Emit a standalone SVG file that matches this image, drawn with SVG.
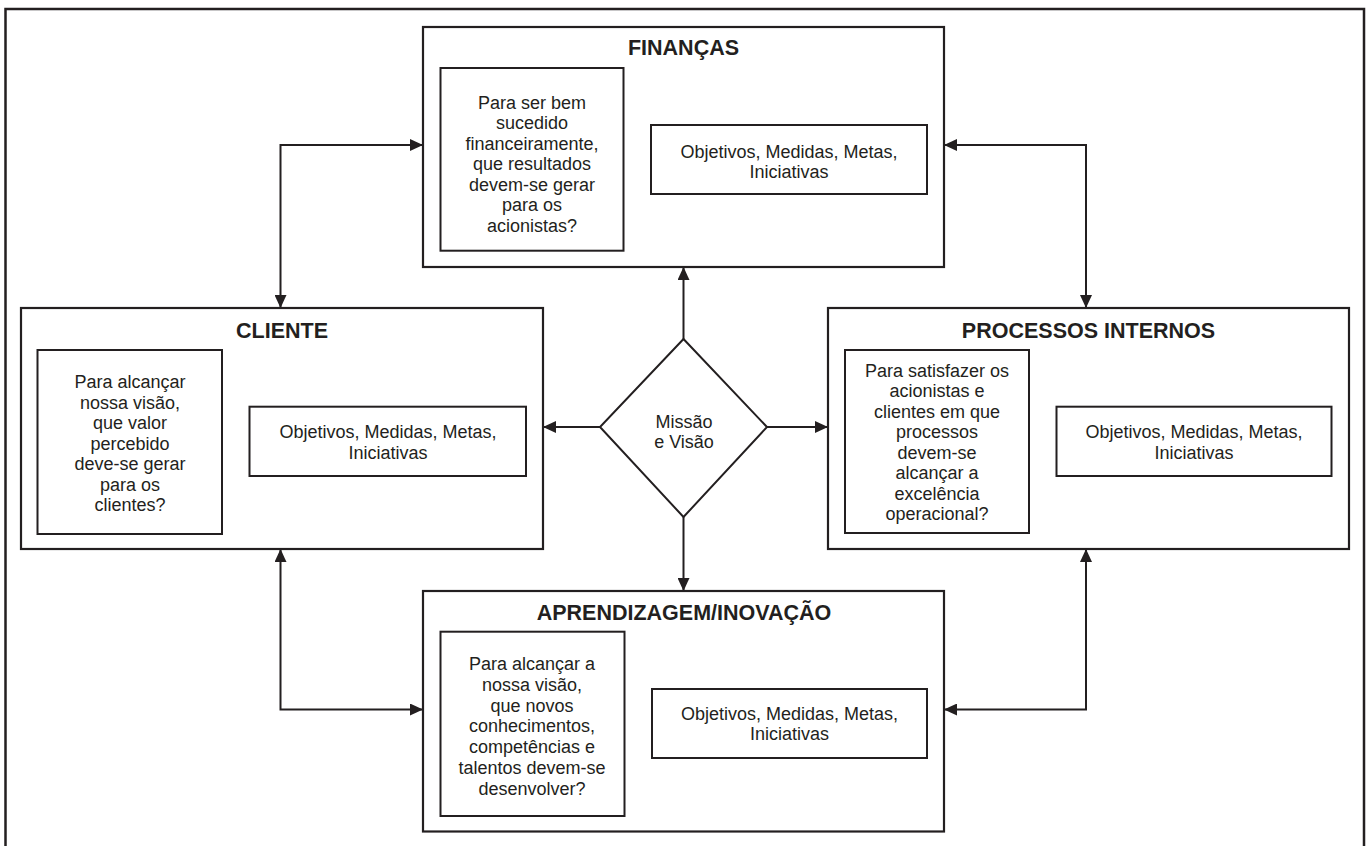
<svg xmlns="http://www.w3.org/2000/svg" width="1371" height="846" viewBox="0 0 1371 846">
<defs>
<marker id="ah" viewBox="0 0 13 12" refX="13" refY="6" markerWidth="13" markerHeight="12" markerUnits="userSpaceOnUse" orient="auto-start-reverse">
<path d="M0,0 L13,6 L0,12 z" fill="#231f20"/>
</marker>
<style>
.box{fill:#fff;stroke:#231f20;stroke-width:2.2}
.ibox{fill:#fff;stroke:#231f20;stroke-width:2}
.title{font-family:"Liberation Sans",Arial,sans-serif;font-weight:bold;font-size:21.5px;fill:#231f20;text-anchor:middle}
.t{font-family:"Liberation Sans",Arial,sans-serif;font-size:18px;fill:#231f20;text-anchor:middle}
.c{fill:none;stroke:#231f20;stroke-width:2}
</style>
</defs>
<rect x="0" y="0" width="1371" height="846" fill="#fff"/>
<rect x="5.5" y="9" width="1358.5" height="850" fill="none" stroke="#231f20" stroke-width="2.5"/>

<g id="connectors">
<path class="c" d="M280.5 308 V145 H423" marker-start="url(#ah)" marker-end="url(#ah)"/>
<path class="c" d="M944 145 H1086 V308" marker-start="url(#ah)" marker-end="url(#ah)"/>
<path class="c" d="M280.5 549 V709.5 H423" marker-start="url(#ah)" marker-end="url(#ah)"/>
<path class="c" d="M1086 549 V709.5 H944" marker-start="url(#ah)" marker-end="url(#ah)"/>
<path class="c" d="M683.5 339 V267" marker-end="url(#ah)"/>
<path class="c" d="M683.5 517 V591" marker-end="url(#ah)"/>
<path class="c" d="M600 427 H543" marker-end="url(#ah)"/>
<path class="c" d="M767 427 H828" marker-end="url(#ah)"/>
</g>

<g id="financas">
<rect class="box" x="423" y="27" width="521" height="240"/>
<text class="title" x="683.5" y="54.7">FINANÇAS</text>
<rect class="ibox" x="440.5" y="68" width="183" height="182.7"/>
<text class="t" x="532" y="108.5">Para ser bem</text>
<text class="t" x="532" y="129">sucedido</text>
<text class="t" x="532" y="149.5">financeiramente,</text>
<text class="t" x="532" y="170">que resultados</text>
<text class="t" x="532" y="190.5">devem-se gerar</text>
<text class="t" x="532" y="211">para os</text>
<text class="t" x="532" y="231.5">acionistas?</text>
<rect class="ibox" x="651" y="125" width="276" height="69"/>
<text class="t" x="789" y="157.5">Objetivos, Medidas, Metas,</text>
<text class="t" x="789" y="178">Iniciativas</text>
</g>

<g id="cliente">
<rect class="box" x="21" y="308" width="522" height="241"/>
<text class="title" x="282" y="338">CLIENTE</text>
<rect class="ibox" x="37.5" y="350" width="184.5" height="184"/>
<text class="t" x="130" y="388">Para alcançar</text>
<text class="t" x="130" y="408.5">nossa visão,</text>
<text class="t" x="130" y="429">que valor</text>
<text class="t" x="130" y="449.5">percebido</text>
<text class="t" x="130" y="470">deve-se gerar</text>
<text class="t" x="130" y="490.5">para os</text>
<text class="t" x="130" y="511">clientes?</text>
<rect class="ibox" x="249.5" y="406.7" width="276.5" height="69.3"/>
<text class="t" x="388" y="438">Objetivos, Medidas, Metas,</text>
<text class="t" x="388" y="458.5">Iniciativas</text>
</g>

<g id="processos">
<rect class="box" x="828" y="308" width="521" height="241"/>
<text class="title" x="1088.5" y="338">PROCESSOS INTERNOS</text>
<rect class="ibox" x="845" y="350" width="184" height="183"/>
<text class="t" x="937" y="376.5">Para satisfazer os</text>
<text class="t" x="937" y="397">acionistas e</text>
<text class="t" x="937" y="417.5">clientes em que</text>
<text class="t" x="937" y="438">processos</text>
<text class="t" x="937" y="458.5">devem-se</text>
<text class="t" x="937" y="479">alcançar a</text>
<text class="t" x="937" y="499.5">excelência</text>
<text class="t" x="937" y="520">operacional?</text>
<rect class="ibox" x="1056.5" y="406.7" width="275" height="69.3"/>
<text class="t" x="1194" y="438">Objetivos, Medidas, Metas,</text>
<text class="t" x="1194" y="458.5">Iniciativas</text>
</g>

<g id="aprendizagem">
<rect class="box" x="423" y="591" width="521" height="240.5"/>
<text class="title" x="684" y="620.3">APRENDIZAGEM/INOVAÇÃO</text>
<rect class="ibox" x="440.5" y="631.7" width="184" height="184.3"/>
<text class="t" x="532" y="670">Para alcançar a</text>
<text class="t" x="532" y="690.8">nossa visão,</text>
<text class="t" x="532" y="711.6">que novos</text>
<text class="t" x="532" y="732.4">conhecimentos,</text>
<text class="t" x="532" y="753.2">competências e</text>
<text class="t" x="532" y="774">talentos devem-se</text>
<text class="t" x="532" y="794.8">desenvolver?</text>
<rect class="ibox" x="652" y="689" width="275" height="69"/>
<text class="t" x="789.5" y="719.6">Objetivos, Medidas, Metas,</text>
<text class="t" x="789.5" y="740">Iniciativas</text>
</g>

<g id="missao">
<polygon points="683.5,339 767,427 683.5,517 600,427" fill="#fff" stroke="#231f20" stroke-width="2"/>
<text class="t" x="684" y="428">Missão</text>
<text class="t" x="684" y="448">e Visão</text>
</g>
</svg>
